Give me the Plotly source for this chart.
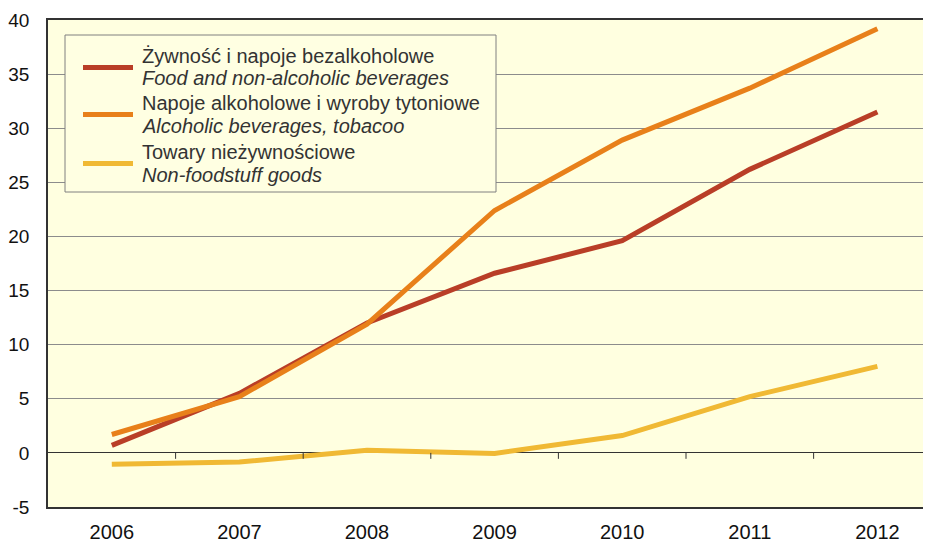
"""
Dynamika cen - wykres liniowy (2006-2012)
"""

import plotly.graph_objects as go

# dane
years = ["2006", "2007", "2008", "2009", "2010", "2011", "2012"]
food = [0.7, 5.5, 12.0, 16.6, 19.6, 26.2, 31.5]
alcohol = [1.7, 5.2, 11.9, 22.4, 28.9, 33.7, 39.2]
non_food = [-1.05, -0.85, 0.25, -0.05, 1.6, 5.2, 8.0]

series_names = [
    ("Żywność i napoje bezalkoholowe", "Food and non-alcoholic beverages"),
    ("Napoje alkoholowe i wyroby tytoniowe", "Alcoholic beverages, tobacoo"),
    ("Towary nieżywnościowe", "Non-foodstuff goods"),
]
series_values = [food, alcohol, non_food]
colors = ["#B93E27", "#E8801A", "#F0B934"]

y_ticks = [-5, 0, 5, 10, 15, 20, 25, 30, 35, 40]
y_labels = ["-5", "0", "5", "10", "15", "20", "25", "30", "35", "40"]

FONT = "Arial, Liberation Sans, sans-serif"
# strona ma 8px marginesu body, więc figura jest mniejsza o 8px
OFF = 8
W, H = 931 - OFF, 544 - OFF
M_L, M_R, M_T, M_B = 40, 0, 12, 37


def px_x(x):
    # piksel okna -> paper (x)
    return (x - OFF - M_L) / (W - M_L - M_R)


def px_y(y):
    # piksel okna -> paper (y)
    return (H - M_B - (y - OFF)) / (H - M_T - M_B)


fig = go.Figure()

for (pl, en), vals, col in zip(series_names, series_values, colors):
    fig.add_trace(
        go.Scatter(
            x=years,
            y=vals,
            mode="lines",
            name=f"{pl} / {en}",
            line=dict(color=col, width=5),
            showlegend=False,
        )
    )

shapes = []
annotations = []

# znaczniki osi X na linii zera
for i in range(len(years) - 1):
    shapes.append(
        dict(type="line", xref="x", yref="y", x0=i + 0.5, x1=i + 0.5,
             y0=0, y1=-0.55, line=dict(color="#333333", width=1))
    )

# legenda rysowana ręcznie
shapes.append(
    dict(type="rect", xref="paper", yref="paper",
         x0=px_x(65), x1=px_x(496), y0=px_y(192), y1=px_y(35),
         fillcolor="#FFFFE2", line=dict(color="#808080", width=1))
)
legend_rows = [67.5, 114.5, 163.5]
for (pl, en), col, yy in zip(series_names, colors, legend_rows):
    shapes.append(
        dict(type="line", xref="paper", yref="paper",
             x0=px_x(83), x1=px_x(133), y0=px_y(yy), y1=px_y(yy),
             line=dict(color=col, width=5))
    )
    for txt, dy in ((pl, -12), (f"<i>{en}</i>", 11)):
        annotations.append(
            dict(xref="paper", yref="paper", x=px_x(140), y=px_y(yy + dy),
                 xanchor="left", yanchor="middle", align="left",
                 text=txt, showarrow=False,
                 font=dict(family=FONT, size=20, color="#333333"))
        )

fig.update_layout(
    width=W,
    height=H,
    margin=dict(l=M_L, r=M_R, t=M_T, b=M_B),
    paper_bgcolor="white",
    plot_bgcolor="#FFFFE0",
    font=dict(family=FONT, size=20, color="#111111"),
    shapes=shapes,
    annotations=annotations,
    xaxis=dict(
        type="category",
        range=[-0.5, 6.42],
        automargin=False,
        showgrid=False,
        showline=True,
        mirror=True,
        linecolor="#333333",
        linewidth=1.5,
        ticks="",
        ticklabelstandoff=6,
    ),
    yaxis=dict(
        range=[-5, 40],
        automargin=False,
        tickvals=y_ticks,
        ticktext=y_labels,
        tickfont=dict(size=19),
        showgrid=True,
        gridcolor="#8C8C8C",
        gridwidth=1,
        zeroline=True,
        zerolinecolor="#333333",
        zerolinewidth=1,
        showline=True,
        linecolor="#333333",
        linewidth=1.5,
        ticks="",
        ticklabelstandoff=13,
    ),
)

fig.write_html("out.html")
